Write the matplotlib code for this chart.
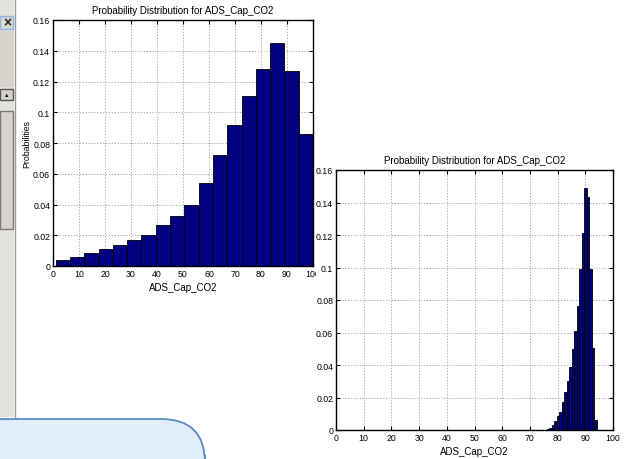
import numpy as np
import matplotlib
matplotlib.use("Agg")
import matplotlib.pyplot as plt
from matplotlib.patches import Rectangle, FancyBboxPatch

plt.rcParams['font.family'] = ['Liberation Sans', 'DejaVu Sans']

# ---- data -------------------------------------------------------------
title_text = "Probability Distribution for ADS_Cap_CO2"
x_label = "ADS_Cap_CO2"
y_label = "Probabilities"

# wide-range run: 18 bins between 1 and 100
edges_wide = np.linspace(1.0, 100.0, 19)
prob_wide = [0.0039, 0.0061, 0.0087, 0.0113, 0.0139, 0.0172, 0.0204, 0.0265,
             0.0326, 0.0395, 0.0543, 0.0721, 0.0916, 0.1103, 0.1279, 0.1448,
             0.1268, 0.0858]

# narrow run: 20 bins between 76.1 and 94.2
edges_narrow = np.linspace(76.1, 94.2, 21)
prob_narrow = [0.0004, 0.0014, 0.0030, 0.0057, 0.0086, 0.0113, 0.0174, 0.0236,
               0.0300, 0.0386, 0.0498, 0.0609, 0.0765, 0.0990, 0.1210, 0.1490,
               0.1436, 0.0990, 0.0507, 0.0064]

x_ticks = list(range(0, 101, 10))
y_ticks = [0, 0.02, 0.04, 0.06, 0.08, 0.1, 0.12, 0.14, 0.16]
y_tick_labels = ["0", "0.02", "0.04", "0.06", "0.08", "0.1", "0.12", "0.14", "0.16"]

# ---- figure -----------------------------------------------------------
W, H = 627, 460
fig = plt.figure(figsize=(W / 100, H / 100), dpi=100)
fig.patch.set_facecolor("white")


def px_rect(x0, y0, x1, y1):
    """Convert pixel box (top-left origin) to figure fraction [l, b, w, h]."""
    return [x0 / W, 1 - y1 / H, (x1 - x0) / W, (y1 - y0) / H]


BAR_COLOR = "#000080"
FS = 6.3


def style_axes(ax, edges, probs, show_ylabel):
    ax.bar(edges[:-1], probs, width=np.diff(edges), align="edge",
           color=BAR_COLOR, edgecolor="black", linewidth=0.6, zorder=2)
    ax.set_xlim(0, 100)
    ax.set_ylim(0, 0.16)
    ax.set_xticks(x_ticks)
    ax.set_xticklabels([str(t) for t in x_ticks], fontsize=FS)
    ax.set_yticks(y_ticks)
    ax.set_yticklabels(y_tick_labels, fontsize=FS)
    ax.tick_params(direction="in", length=3, width=0.8, top=True, right=True,
                   pad=2)
    ax.grid(True, linestyle=(0, (1.5, 2)), color="#9c9c9c", linewidth=0.6,
            zorder=0)
    ax.set_axisbelow(True)
    for s in ax.spines.values():
        s.set_linewidth(1.0)
        s.set_color("black")
    ax.set_title(title_text, fontsize=7, pad=5)
    ax.set_xlabel(x_label, fontsize=7, labelpad=3)
    if show_ylabel:
        ax.set_ylabel(y_label, fontsize=6.3, labelpad=1)


# first histogram window
ax1 = fig.add_axes(px_rect(53, 21, 313, 267))
style_axes(ax1, edges_wide, prob_wide, True)
ax1.set_zorder(0)

# second window background sits on top of the first one
win2 = Rectangle((316 / W, 0), 1 - 316 / W, 1 - 150 / H,
                 transform=fig.transFigure, facecolor="white",
                 edgecolor="none", zorder=0.5)
fig.patches.append(win2)

ax2 = fig.add_axes(px_rect(336, 171, 613, 431))
style_axes(ax2, edges_narrow, prob_narrow, False)
ax2.set_zorder(1)

# ---- side panel of the desktop ----------------------------------------
panel = Rectangle((0, 1 - 418 / H), 14 / W, 418 / H, transform=fig.transFigure,
                  facecolor="#e4e2de", edgecolor="none", zorder=2)
fig.patches.append(panel)
fig.add_artist(plt.Line2D([14.5 / W, 14.5 / W], [1 - 418 / H, 1 - 0 / H],
                          transform=fig.transFigure, color="#9a9a9a",
                          linewidth=1.0, zorder=2.1))
upper = Rectangle((0, 1 - 88 / H), 14 / W, 56 / H, transform=fig.transFigure,
                  facecolor="#d6d2cc", edgecolor="none", zorder=2.05)
fig.patches.append(upper)
close_btn = Rectangle((0, 1 - 30 / H), 13 / W, 13 / H, transform=fig.transFigure,
                      facecolor="#dcd8d2", edgecolor="#8fb3da", linewidth=1.0,
                      zorder=2.2)
fig.patches.append(close_btn)
fig.text(7 / W, 1 - 23.5 / H, "×", fontsize=10, fontweight="bold", ha="center",
         va="center", color="#222222", zorder=2.3)
scroll_btn = Rectangle((0, 1 - 101 / H), 13 / W, 11 / H, transform=fig.transFigure,
                       facecolor="#d4d0ca", edgecolor="#555555", linewidth=1.0,
                       zorder=2.2)
fig.patches.append(scroll_btn)
fig.text(7 / W, 1 - 95.5 / H, "▲", fontsize=4, ha="center", va="center",
         color="#111111", zorder=2.3)
slot = Rectangle((0, 1 - 230 / H), 13 / W, 118 / H, transform=fig.transFigure,
                 facecolor="#d6d2cc", edgecolor="#777777", linewidth=1.0,
                 zorder=2.2)
fig.patches.append(slot)

# ---- rounded note box in the lower-left corner ------------------------
note = FancyBboxPatch((-40 / W, -40 / H), 245 / W, (40 + 40) / H,
                      boxstyle="round,pad=0,rounding_size=0.07",
                      transform=fig.transFigure, facecolor="#e1eef7",
                      edgecolor="#5a8acb", linewidth=1.3, zorder=3,
                      mutation_aspect=W / H)
fig.patches.append(note)

fig.savefig("out.png", dpi=100)
